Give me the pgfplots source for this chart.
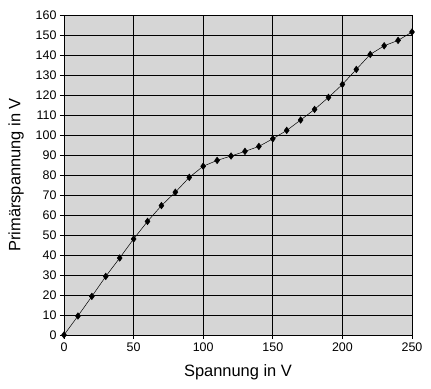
\documentclass[border=0pt]{standalone}
\usepackage{pgfplots}
\pgfplotsset{compat=1.18}
\usepackage{fontspec}
\setmainfont{Liberation Sans}
\definecolor{bg}{HTML}{D6D6D6}
\begin{document}
\begin{tikzpicture}[x=1bp,y=1bp]
\useasboundingbox (0,0) rectangle (431,389);
\begin{axis}[
  at={(64bp,54bp)}, anchor=south west,
  scale only axis, width=348bp, height=320bp,
  xmin=0, xmax=250, ymin=0, ymax=160,
  xtick={0,50,...,250}, ytick={0,10,...,160},
  axis background/.style={fill=bg},
  grid=major, major grid style={black, line width=0.9pt},
  axis line style={black, line width=0.8pt},
  tick style={black, line width=0.8pt},
  tick align=outside, major tick length=4bp,
  xtick pos=bottom, ytick pos=left,
  /pgf/number format/assume math mode=true,
  ticklabel style={font=\fontsize{12.5}{14}\selectfont},
  xlabel={Spannung in V}, ylabel={Primärspannung in V},
  label style={font=\fontsize{16.5}{19}\selectfont},
  xlabel style={yshift=-6bp},
  ylabel style={yshift=5bp},
]
\addplot[black, line width=0.5pt, mark=diamond*, mark size=3.3bp, mark options={fill=black}] coordinates {
(0,0) (10,9.5) (20,19.3) (30,29.3) (40,38.5) (50,48) (60,56.8) (70,64.7)
(80,71.4) (90,78.8) (100,84.4) (110,87.3) (120,89.5) (130,91.8) (140,94.3)
(150,98.1) (160,102.3) (170,107.5) (180,112.8) (190,118.8) (200,125.3)
(210,132.8) (220,140.3) (230,144.6) (240,147.3) (250,151.5)
};
\end{axis}
\end{tikzpicture}
\end{document}
